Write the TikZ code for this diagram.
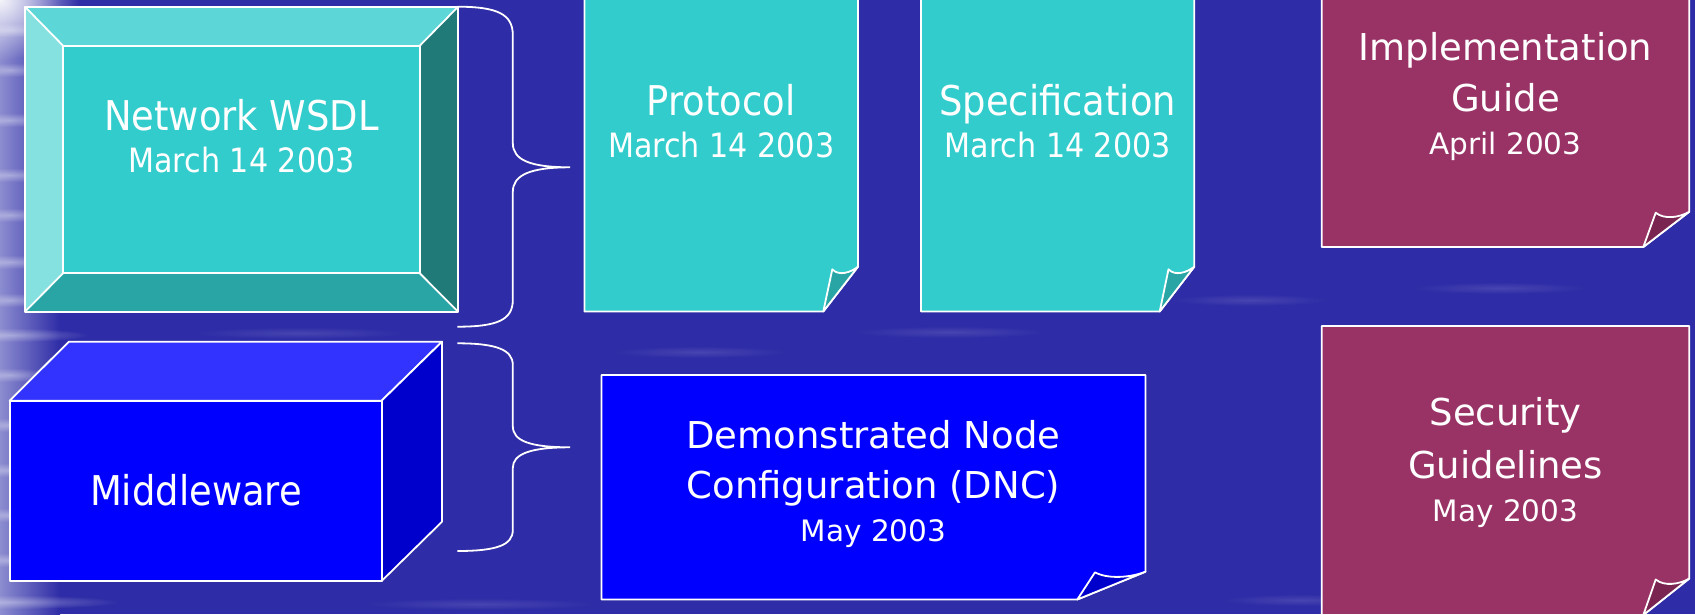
\documentclass[tikz,border=0pt]{standalone}
\usepackage{fontspec}
\setmainfont{DejaVu Sans}
\newfontfamily\narrowfont[FakeStretch=0.9]{DejaVu Sans}
\usetikzlibrary{fadings}

\definecolor{bgbase}{RGB}{46,44,166}
\definecolor{bgleft}{RGB}{140,140,208}
\definecolor{cyface}{RGB}{51,204,204}
\definecolor{cytop}{RGB}{92,214,214}
\definecolor{cyleft}{RGB}{133,224,224}
\definecolor{cyright}{RGB}{31,122,120}
\definecolor{cybottom}{RGB}{41,165,165}
\definecolor{blface}{RGB}{0,0,255}
\definecolor{bltop}{RGB}{51,51,255}
\definecolor{blside}{RGB}{0,0,204}
\definecolor{mrface}{RGB}{153,51,102}
\definecolor{mrflap}{RGB}{122,36,82}

% soft radial fade used for the light streaks on the water
\tikzfading[name=softglow, inner color=transparent!0, outer color=transparent!100]

\tikzset{
  edge/.style={draw=white, line width=1.8pt, line join=round},
  pagecy/.style={edge, fill=cyface},
  flapcy/.style={edge, fill=cybottom},
  pagebl/.style={edge, fill=blface},
  flapbl/.style={edge, fill=blside},
  pagemr/.style={edge, fill=mrface},
  flapmr/.style={edge, fill=mrflap},
  brace/.style={draw=white, line width=1.8pt},
  glow/.style={fill=white, path fading=softglow},
  label/.style={text=white, inner sep=0pt, anchor=base},
  bignarrow/.style={label, font=\narrowfont\fontsize{41}{49}\selectfont},
  smallnarrow/.style={label, font=\narrowfont\fontsize{33.5}{40}\selectfont},
  bigwide/.style={label, font=\fontsize{37}{44}\selectfont},
  smallwide/.style={label, font=\fontsize{29.5}{35}\selectfont},
}

% sheet with a curled lower right corner
% #1 left, #2 top, #3 right, #4 bottom, #5 x where the bottom edge stops,
% #6 y where the right edge stops, #7,#8 tip of the curl, #9 colour suffix
\newcommand\curlsheet[9]{%
  \path[page#9] (#1,#2) -- (#3,#2) -- (#3,#6) -- (#5,#4) -- (#1,#4) -- cycle;
  \path[flap#9] (#5,#4) -- (#7,#8)
    .. controls ({#7+0.25*(#3-#7)},{#8+7}) and ({#3-0.3*(#3-#7)},{#6+6}) .. (#3,#6)
    -- cycle;
}

\begin{document}
\begin{tikzpicture}[x=1pt, y=-1pt]
\useasboundingbox (0,0) rectangle (1695,614);

% water background
\fill[bgbase] (0,0) rectangle (1695,614);
\shade[left color=bgleft, right color=bgbase] (0,0) rectangle (60,614);
\fill[glow, opacity=0.9] (0,0) ellipse [x radius=80, y radius=60];
\foreach \yy/\ww in {30/45,70/35,120/50,175/60,215/40,262/55,300/40,335/80,375/45,425/35,470/50,515/40,560/45,602/110}
  \fill[glow, opacity=0.35] (10,\yy) ellipse [x radius=\ww, y radius=7];
\foreach \xx/\yy/\ww in {300/333/110,700/352/90,1250/300/80,950/332/100,1500/288/90,480/604/120,1300/600/80}
  \fill[glow, opacity=0.12] (\xx,\yy) ellipse [x radius=\ww, y radius=6];

% bevelled frame
\fill[cytop]    (24.9,6.7) -- (458.1,6.7) -- (419.8,45.7) -- (63.1,45.7) -- cycle;
\fill[cyleft]   (24.9,6.7) -- (63.1,45.7) -- (63.1,273.3) -- (24.9,311.7) -- cycle;
\fill[cyright]  (458.1,6.7) -- (458.1,311.7) -- (419.8,273.3) -- (419.8,45.7) -- cycle;
\fill[cybottom] (24.9,311.7) -- (63.1,273.3) -- (419.8,273.3) -- (458.1,311.7) -- cycle;
\path[edge, fill=cyface] (63.1,45.7) rectangle (419.8,273.3);
\draw[edge] (24.9,6.7) rectangle (458.1,311.7);
\draw[edge] (24.9,6.7) -- (63.1,45.7) (458.1,6.7) -- (419.8,45.7)
            (24.9,311.7) -- (63.1,273.3) (458.1,311.7) -- (419.8,273.3);
\node[bignarrow]   (wsdl)  at (241.5,130)   {Network WSDL};
\node[smallnarrow] (wsdld) at (241.5,172.7) {March 14 2003};

% box
\path[edge, fill=bltop]  (9.6,400.7) -- (68.9,341.7) -- (442,341.7) -- (381.6,400.7) -- cycle;
\path[edge, fill=blside] (381.6,400.7) -- (442,341.7) -- (442,521.7) -- (381.6,581) -- cycle;
\path[edge, fill=blface] (9.6,400.7) rectangle (381.6,581);
\node[bignarrow] (mid) at (196,505) {Middleware};

% sheets
\curlsheet{584.4}{-5}{858}{311.5}{823.3}{266.7}{832.3}{269.3}{cy}
\node[bignarrow]   (proto)  at (721.2,115)   {Protocol};
\node[smallnarrow] (protod) at (721.2,157.3) {March 14 2003};

\curlsheet{921}{-5}{1194.3}{311.5}{1159.7}{266.7}{1168.5}{269.3}{cy}
\node[bignarrow]   (spec)  at (1057.6,115)   {Specification};
\node[smallnarrow] (specd) at (1057.6,157.3) {March 14 2003};

\curlsheet{601.5}{375}{1145.5}{599.5}{1077.3}{571.7}{1095}{572.3}{bl}
\node[bigwide]   (dnc1) at (873.5,448.3) {Demonstrated Node};
\node[bigwide]   (dnc2) at (873.5,498.3) {Configuration (DNC)};
\node[smallwide] (dncd) at (873.5,541.7) {May 2003};

\curlsheet{1321.7}{-5}{1689.3}{247}{1643.3}{211.7}{1655.7}{212.7}{mr}
\node[bigwide]   (impl1) at (1505.5,60.5)  {Implementation};
\node[bigwide]   (impl2) at (1505.5,111.3) {Guide};
\node[smallwide] (impld) at (1505.5,154.3) {April 2003};

\curlsheet{1321.7}{326}{1689.3}{615}{1643.3}{578.5}{1655.7}{579.5}{mr}
\node[bigwide]   (sec1) at (1505.5,425.8) {Security};
\node[bigwide]   (sec2) at (1505.5,478.5) {Guidelines};
\node[smallwide] (secd) at (1505.5,521.5) {May 2003};

% grouping braces
\coordinate (b1top) at (457.3,6.7);
\coordinate (b1tip) at (570.2,167.3);
\coordinate (b1bot) at (457.3,326.7);
\draw[brace] (b1top) .. controls (497,6.7) and (512.8,14) .. (512.8,35)
  -- (512.8,143) .. controls (512.8,160) and (530,167.3) .. (b1tip)
  .. controls (530,167.3) and (512.8,175) .. (512.8,192)
  -- (512.8,300) .. controls (512.8,320) and (497,326.7) .. (b1bot);

\coordinate (b2top) at (457.3,343.3);
\coordinate (b2tip) at (570.2,447.3);
\coordinate (b2bot) at (457.3,551);
\draw[brace] (b2top) .. controls (497,343.3) and (512.8,350) .. (512.8,365)
  -- (512.8,426) .. controls (512.8,441) and (530,447.3) .. (b2tip)
  .. controls (530,447.3) and (512.8,454) .. (512.8,468)
  -- (512.8,530) .. controls (512.8,545) and (497,551) .. (b2bot);
\end{tikzpicture}
\end{document}
